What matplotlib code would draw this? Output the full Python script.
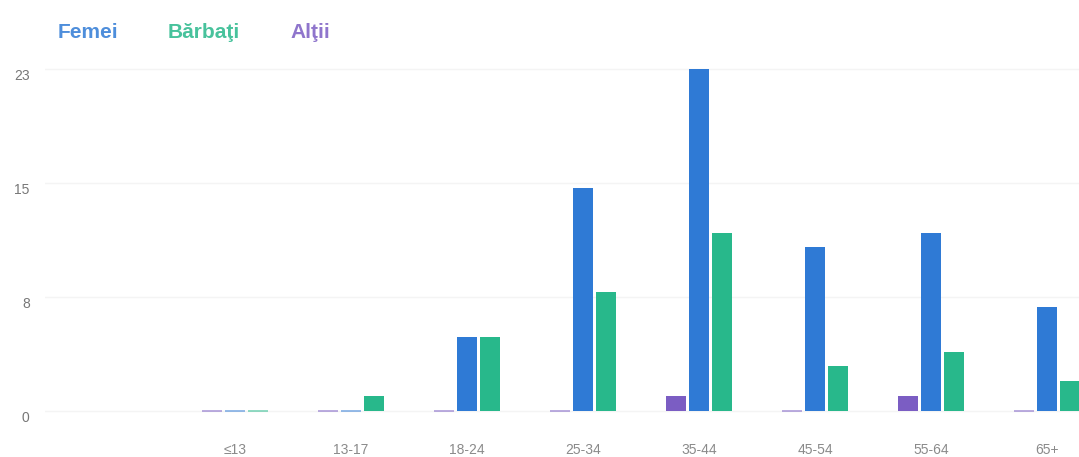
import numpy as np
import matplotlib
matplotlib.use("Agg")
import matplotlib.pyplot as plt
import matplotlib.transforms as mtransforms

# ---- data ----
categories = ["≤13", "13-17", "18-24", "25-34", "35-44", "45-54", "55-64", "65+"]
femei = [0, 0, 5, 15, 23, 11, 12, 7]
barbati = [0, 1, 5, 8, 12, 3, 4, 2]
altii = [0, 0, 0, 0, 1, 0, 1, 0]
series_names = ["Femei", "Bărbaţi", "Alţii"]
ytick_labels = ["0", "8", "15", "23"]

# ---- style ----
c_fem = "#2f7ad5"
c_bar = "#28b88b"
c_alt = "#7b5dc3"
FONT = ["Liberation Sans", "DejaVu Sans"]
plt.rcParams["font.family"] = FONT

W, H = 1079, 457
fig = plt.figure(figsize=(W / 100, H / 100), dpi=100)

# layout in pixels
ax_left_px, ax_right_px = 45, 1079
ax_top_px, ax_bot_px = 60, 435
base_px, top23_px = 411, 69
first_cat_px, cat_pitch_px = 235, 116

ax = fig.add_axes([ax_left_px / W, 1 - ax_bot_px / H,
                   (ax_right_px - ax_left_px) / W, (ax_bot_px - ax_top_px) / H])

ppu = (base_px - top23_px) / 23.0
ax.set_ylim((base_px - ax_bot_px) / ppu, (base_px - ax_top_px) / ppu)
ax.set_xlim((ax_left_px - first_cat_px) / cat_pitch_px,
            (ax_right_px - first_cat_px) / cat_pitch_px)

x = np.arange(len(categories))
pitch = 23 / cat_pitch_px
width = 19.5 / cat_pitch_px

def draw(vals, offset, color):
    lws = [1.3 if v == 0 else 0 for v in vals]
    ax.bar(x + offset, vals, width, color=color,
           edgecolor=matplotlib.colors.to_rgba(color, 0.55),
           linewidth=lws, zorder=3)

draw(altii, -pitch, c_alt)
draw(femei, 0, c_fem)
draw(barbati, pitch, c_bar)

# axes styling
for s in ax.spines.values():
    s.set_visible(False)
yt = np.linspace(0, 23, 4)
ax.set_yticks(yt, ytick_labels)
ax.tick_params(axis="y", length=0, pad=11, labelsize=10, labelcolor="#777777")
ax.set_xticks(x, categories)
ax.tick_params(axis="x", length=0, pad=6, labelsize=10, labelcolor="#8a8a8a")
ax.grid(axis="y", color="#f4f4f4", linewidth=1, zorder=0)
ax.set_axisbelow(True)

off = mtransforms.ScaledTranslation(0, -6 / 100, fig.dpi_scale_trans)
for lab in ax.get_yticklabels():
    lab.set_transform(lab.get_transform() + off)

# legend as text
leg_x = [58, 168, 290]
leg_c = [c_fem, c_bar, c_alt]
for name, lx, lc in zip(series_names, leg_x, leg_c):
    fig.text(lx / W, 1 - 32 / H, name, color=lc, fontsize=15,
             va="center", ha="left", fontweight="bold", alpha=0.85)

fig.savefig("out.png", dpi=100, facecolor="white")
